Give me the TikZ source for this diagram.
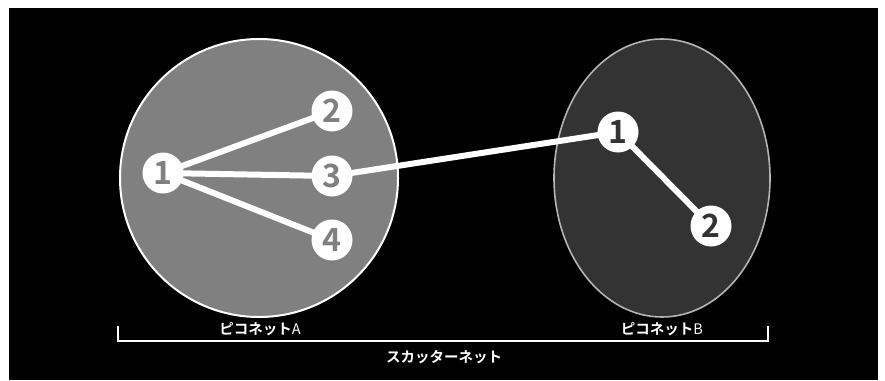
\documentclass[tikz,border=0pt]{standalone}
\usepackage{fontspec}
\setmainfont{Noto Sans}
\newfontfamily\jpfont{Noto Sans CJK JP}[BoldFont={Noto Sans CJK JP Bold}]
\definecolor{cgA}{HTML}{808080}
\definecolor{cgB}{HTML}{333333}
\definecolor{cgBline}{HTML}{B4B4B4}
\tikzset{
  dev/.style={circle, fill=white, draw=none, minimum size=41pt, inner sep=0pt,
    font=\jpfont\bfseries\fontsize{32}{32}\selectfont},
  link/.style={draw=white, line width=6pt},
  lbl/.style={text=white, font=\jpfont\bfseries\fontsize{14.5}{14.5}\selectfont, inner sep=0pt}
}
\begin{document}
\begin{tikzpicture}[x=1pt,y=-1pt]
\useasboundingbox (0,0) rectangle (885,380);
\fill[white] (0,0) rectangle (885,380);
\fill[black] (9,8) rectangle (878,380);
% piconets
\draw[white, line width=2pt, fill=cgA] (259,178) circle[radius=139];
\draw[cgBline, line width=1.6pt, fill=cgB] (662,178) ellipse[x radius=108, y radius=139];
% node positions
\coordinate (pa1) at (163,173);
\coordinate (pa2) at (332,111);
\coordinate (pa3) at (332,176);
\coordinate (pa4) at (332,240);
\coordinate (pb1) at (618,132);
\coordinate (pb2) at (711,226);
% links
\draw[link] (pa1) -- (pa2);
\draw[link] (pa1) -- (pa3);
\draw[link] (pa1) -- (pa4);
\draw[link] (pa3) -- (pb1);
\draw[link] (pb1) -- (pb2);
% nodes
\node[dev, text=cgA] (a1) at (pa1) {1};
\node[dev, text=cgA] (a2) at (pa2) {2};
\node[dev, text=cgA] (a3) at (pa3) {3};
\node[dev, text=cgA] (a4) at (pa4) {4};
\node[dev, text=cgB] (b1) at (pb1) {1};
\node[dev, text=cgB] (b2) at (pb2) {2};
% bracket
\coordinate (bl) at (118,326);
\coordinate (br) at (768,326);
\draw[white, line width=2.5pt] (bl) -- (bl |- 0,341) -- (br |- 0,341) -- (br);
\node[lbl] (la) at (260,329) {ピコネット{\mdseries A}};
\node[lbl] (lb) at (662,329) {ピコネット{\mdseries B}};
\node[lbl] (ls) at (444,357) {スカッターネット};
\end{tikzpicture}
\end{document}
